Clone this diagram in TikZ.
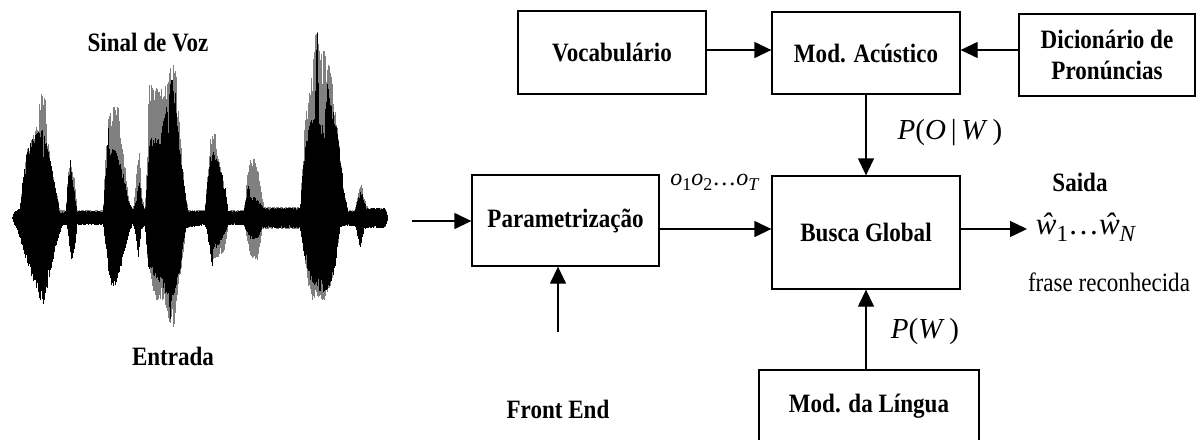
\documentclass[tikz,border=0pt]{standalone}
\usepackage{fontspec}
\setmainfont[FakeStretch=0.87]{Liberation Serif}
\newfontfamily\mathlike{Liberation Serif}
\usetikzlibrary{arrows.meta}
% one half of a waveform envelope: #1 style, #2 direction (-1 up, 1 down), #3 x:amplitude points
\newcommand\waveenvelope[3]{%
  \foreach \xb/\ab [remember=\xb as \xa (initially 12), remember=\ab as \aa (initially 0)] in {#3} {
    \pgfmathtruncatemacro\nseg{round((\xb-\xa)*2)}
    \ifnum\nseg>0
      \foreach \k in {1,...,\nseg} {
        \pgfmathsetmacro\xx{\xa+\k/2}
        \pgfmathsetmacro\am{(\aa+(\ab-\aa)*\k/\nseg)*(1-0.38*rnd*rnd)}
        \draw[#1] (\xx,218) -- (\xx,218+#2*\am);
      }
    \fi
  }}
\begin{document}
\begin{tikzpicture}[x=1pt,y=-1pt,
  box/.style={draw,line width=1.3pt,font=\fontsize{26.5}{31}\selectfont\bfseries,align=center,inner sep=0pt},
  arr/.style={line width=1.3pt,-{Triangle[length=17pt,width=16pt]}},
  lbl/.style={font=\fontsize{26.5}{31}\selectfont\bfseries,inner sep=0pt},
  txt/.style={font=\fontsize{26.5}{31}\selectfont,inner sep=0pt},
  mth/.style={font=\mathlike\fontsize{29}{32}\selectfont,inner sep=0pt},
  wavegray/.style={draw=black!50,line width=0.8pt},
  waveblack/.style={draw=black,line width=0.8pt}
]
\useasboundingbox (0,0) rectangle (1196,439);
\clip (0,0) rectangle (1196,439);

% speech waveform: grey envelope first, black envelope on top
\pgfmathsetseed{5}
\waveenvelope{wavegray}{-1}{14/6,20/8,22/30,27/68,33/85,38/95,40/125,45/125,47/90,50/58,55/31,60/8,66/8,68/45,70/60,74/40,77/8,103/8,105/50,108/101,111/111,118/111,121/80,125/50,129/18,133/8,136/40,139/68,142/20,145/8,147/60,149/135,158/130,163/130,167/135,170/150,172/158,176/150,178/110,181/70,185/25,188/8,205/8,208/50,211/85,214/91,217/70,221/50,224/35,228/8,244/8,247/40,250/61,256/58,260/35,264/11,300/11,303/60,305/98,310/128,313/160,315/188,318/188,320/175,325/165,330/151,335/108,340/65,344/25,348/8,355/8,358/25,361/36,364/20,368/10,385/10,388/0}
\waveenvelope{wavegray}{1}{14/5,20/16,25/32,30/46,37/60,43/78,50/47,55/26,60/11,63/6,67/6,70/30,72/40,75/20,77/6,103/6,105/18,110/60,115/62,120/44,127/18,132/6,135/12,138/36,141/12,145/7,148/49,155/82,165/85,170/109,175/109,178/70,182/45,186/10,205/6,208/17,212/44,218/40,225/32,228/7,244/7,247/20,250/42,258/42,262/12,264/11,300/11,303/30,305/42,310/82,325/82,330/69,335/49,340/9,344/8,355/7,358/17,360/26,364/10,368/9,385/9,388/0}
\waveenvelope{waveblack}{-1}{14/6,20/10,23/40,27/68,33/81,38/88,42/93,45/80,50/58,55/31,60/5,66/7,68/40,70/58,73/35,77/7,103/7,106/50,108/100,109/70,115/70,120/55,124/40,128/18,133/7,136/20,139/38,142/15,145/7,148/50,150/80,160/81,165/108,168/120,170/148,172/140,175/125,178/90,180/65,185/25,188/7,205/7,208/45,212/71,215/60,218/58,222/45,225/31,228/7,244/7,247/30,248/38,250/22,256/21,260/15,264/10,300/10,303/50,305/75,310/95,315/108,317/188,319/100,322/95,326/120,328/141,330/115,333/111,337/85,340/65,344/25,348/7,355/7,358/20,361/30,364/15,368/10,385/10,388/0}
\waveenvelope{waveblack}{1}{14/6,20/20,25/39,30/55,37/72,43/92,46/75,50/55,55/32,60/14,63/7,67/7,70/35,72/45,75/25,77/7,103/7,105/22,110/69,115/72,120/52,127/22,132/7,135/12,138/40,141/12,145/7,148/49,155/59,165/75,168/80,170/102,172/80,175/75,180/52,184/20,186/10,205/7,208/20,212/55,213/32,218/28,225/15,228/7,244/7,247/15,250/22,258/20,262/10,300/10,303/30,305/42,310/62,315/72,325/75,330/69,335/49,340/9,344/8,355/8,358/20,360/30,364/12,368/10,385/10,388/0}

\node[lbl] (sinal) at (148,43) {Sinal de Voz};
\node[lbl] (entrada) at (173,356) {Entrada};

% blocks
\node[box,minimum width=188pt,minimum height=83pt] (voc) at (612,52.5) {Vocabulário};
\node[box,minimum width=188pt,minimum height=82pt] (mac) at (866,53) {Mod. Acústico};
\node[box,minimum width=176pt,minimum height=82pt] (dic) at (1107,55) {Dicionário de\\Pronúncias};
\node[box,minimum width=187pt,minimum height=91pt] (par) at (565.5,220.5) {Parametrização};
\node[box,minimum width=188pt,minimum height=113pt] (bus) at (866,232.5) {Busca Global};
\node[box,minimum width=220pt,text height=42pt,text depth=48pt] (lin) at (869,415) {Mod. da Língua};

% connectors
\coordinate (in) at (412,221);
\coordinate (pb) at (700,229);
\coordinate (out) at (1027,229);
\coordinate (fe) at (558,332);
\coordinate (mtop) at (0,50);
\draw[arr] (voc.east |- mtop) -- (mac.west |- mtop);
\draw[arr] (dic.west |- mtop) -- (mac.east |- mtop);
\draw[arr] (in) -- (par.west |- in);
\draw[arr] (par.east |- pb) -- (bus.west |- pb);
\draw[arr] (mac.south) -- (bus.north);
\draw[arr] (bus.south |- lin.north) -- (bus.south);
\draw[arr] (bus.east |- out) -- (out);
\draw[arr] (fe) -- (par.south -| fe);

% labels
\node[lbl] (front) at (558,409) {Front End};
\node[font=\mathlike\fontsize{24}{27}\selectfont,inner sep=0pt] (obs) at (715,182)
  {\textit{o}\raisebox{-5pt}{\fontsize{18}{20}\selectfont 1}\textit{o}\raisebox{-5pt}{\fontsize{18}{20}\selectfont 2}\dots\textit{o}\raisebox{-5pt}{\fontsize{18}{20}\selectfont\textit{T}}};
\node[mth] (pow) at (950,133) {\textit{P}(\textit{O}\,|\,\textit{W}\,)};
\node[mth] (pw) at (925,332) {\textit{P}(\textit{W}\,)};
\node[lbl] (saida) at (1080,182) {Saida};
\node[font=\mathlike\fontsize{31}{34}\selectfont,inner sep=0pt] (wn) at (1086,227)
  {\textit{ŵ}\raisebox{-7pt}{\fontsize{23}{26}\selectfont 1}\dots\textit{ŵ}\raisebox{-7pt}{\fontsize{23}{26}\selectfont\textit{N}}};
\node[txt] (frase) at (1109,282) {frase reconhecida};
\end{tikzpicture}
\end{document}
